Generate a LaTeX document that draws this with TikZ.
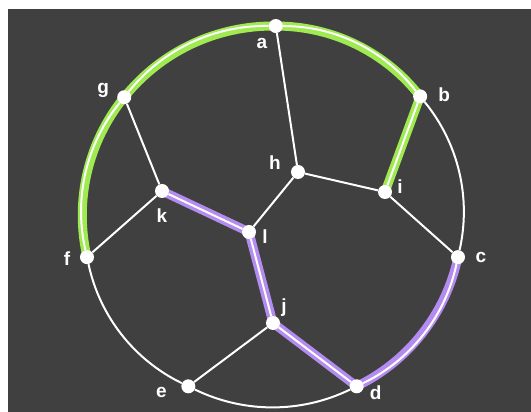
\documentclass[tikz,border=0pt]{standalone}
\usepackage{xcolor}
\usepackage{fontspec}
\setmainfont{Liberation Sans}
\usepackage{tikz}
\usetikzlibrary{positioning}

\definecolor{bgdark}{RGB}{64,64,64}
\definecolor{pathgreen}{RGB}{158,234,80}
\definecolor{pathpurple}{RGB}{180,140,240}

\pgfdeclarelayer{background}
\pgfsetlayers{background,main}

\begin{document}
\begin{tikzpicture}[x=1pt, y=1pt,
        dot/.style={circle, fill=white, inner sep=0pt, minimum size=14pt},
        lbl/.style={text=white, inner sep=0pt, font=\bfseries\fontsize{19}{19}\selectfont},
        link/.style={draw=white, line width=2pt},
        rim/.style={bend left=26, looseness=0.9},
        greenpath/.style={draw=pathgreen, line width=9pt, line join=round},
        purplepath/.style={draw=pathpurple, line width=9pt, line join=round}]

        \useasboundingbox (0,0) rectangle (531,412);
        \coordinate (O) at (272.5,196);

        % rim of the wheel
        \node[dot] (a) at ([shift={(89:190)}]O) {};
        \node[dot] (b) at ([shift={(39:190)}]O) {};
        \node[dot] (c) at ([shift={(-12.5:190)}]O) {};
        \node[dot] (d) at ([shift={(-63.7:190)}]O) {};
        \node[dot] (e) at ([shift={(-116.3:190)}]O) {};
        \node[dot] (f) at ([shift={(192.5:190)}]O) {};
        \node[dot] (g) at ([shift={(141.3:190)}]O) {};

        % inside
        \node[dot] (h) at (298,240) {};
        \node[dot] (i) at (385,220) {};
        \node[dot] (j) at (273,89) {};
        \node[dot] (k) at (162,221) {};
        \node[dot] (l) at (249,180) {};

        \node[lbl] (la) at ([shift={(-14,-17)}]a) {a};
        \node[lbl] (lb) at ([shift={(24,2)}]b) {b};
        \node[lbl] (lc) at ([shift={(23,0)}]c) {c};
        \node[lbl] (ld) at ([shift={(19,-6)}]d) {d};
        \node[lbl] (le) at ([shift={(-27,-6)}]e) {e};
        \node[lbl] (lf) at ([shift={(-20,-1)}]f) {f};
        \node[lbl] (lg) at ([shift={(-21,7)}]g) {g};
        \node[lbl] (lh) at ([shift={(-23,9)}]h) {h};
        \node[lbl] (li) at ([shift={(15,5)}]i) {i};
        \node[lbl] (lj) at ([shift={(11,15)}]j) {j};
        \node[lbl] (lk) at ([shift={(0,-25)}]k) {k};
        \node[lbl] (ll) at ([shift={(16,-5)}]l) {l};

        \path[link]
        (a) edge[rim] (b)
        (b) edge[rim] (c)
        (c) edge[rim] (d)
        (d) edge[rim] (e)
        (e) edge[rim] (f)
        (f) edge[rim] (g)
        (g) edge[rim] (a)
        (a) edge (h)
        (h) edge (i)
        (h) edge (l)
        (i) edge (b)
        (i) edge (c)
        (g) edge (k)
        (k) edge (f)
        (k) edge (l)
        (l) edge (j)
        (j) edge (e)
        (j) edge (d);

        \begin{pgfonlayer}{background}
            \fill[bgdark] (8,0) rectangle (531,403);
            \draw[greenpath] (f.center) to[rim] (g.center) to[rim] (a.center) to[rim] (b.center) -- (i.center);
            \draw[purplepath] (k.center) -- (l.center) -- (j.center) -- (d.center) to[bend right=26, looseness=0.9] (c.center);
        \end{pgfonlayer}

\end{tikzpicture}
\end{document}
